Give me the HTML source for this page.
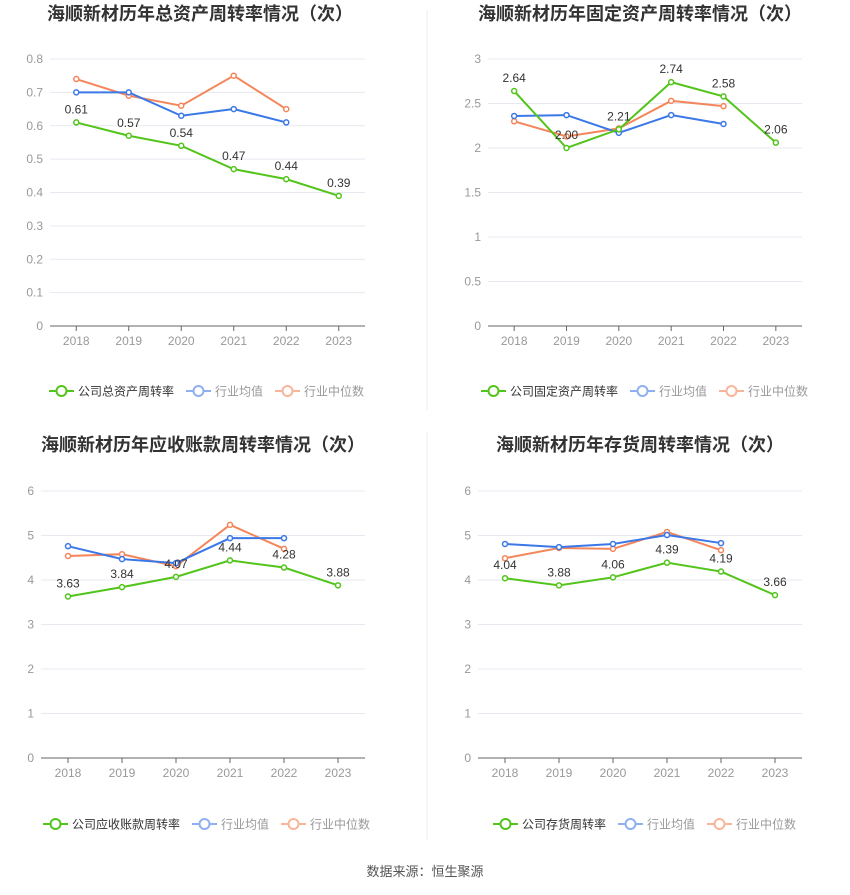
<!DOCTYPE html>
<html><head><meta charset="utf-8"><style>
body{margin:0;background:#fff;font-family:"Liberation Sans","Noto Sans CJK SC",sans-serif;}
svg text{font-family:"Liberation Sans","Noto Sans CJK SC",sans-serif;}
</style></head><body>
<svg id="s" width="850" height="890" xmlns="http://www.w3.org/2000/svg">
<line x1="427" y1="10" x2="427" y2="410" stroke="#eee"/>
<line x1="427" y1="432" x2="427" y2="840" stroke="#eee"/>
<text x="425" y="876" text-anchor="middle" font-size="13" fill="#555">数据来源：恒生聚源</text>
</svg>
<script>
const years=['2018','2019','2020','2021','2022','2023'];
const c1Company=[0.61,0.57,0.54,0.47,0.44,0.39];
const c1Avg=[0.70,0.70,0.63,0.65,0.61];
const c1Median=[0.74,0.69,0.66,0.75,0.65];
const c1Ticks=[0,0.1,0.2,0.3,0.4,0.5,0.6,0.7,0.8];
const c2Company=[2.64,2.00,2.21,2.74,2.58,2.06];
const c2Avg=[2.36,2.37,2.17,2.37,2.27];
const c2Median=[2.30,2.13,2.22,2.53,2.47];
const c2Ticks=[0,0.5,1,1.5,2,2.5,3];
const c3Company=[3.63,3.84,4.07,4.44,4.28,3.88];
const c3Avg=[4.76,4.47,4.38,4.94,4.94];
const c3Median=[4.54,4.58,4.31,5.24,4.70];
const c3Ticks=[0,1,2,3,4,5,6];
const c4Company=[4.04,3.88,4.06,4.39,4.19,3.66];
const c4Avg=[4.81,4.74,4.81,5.01,4.83];
const c4Median=[4.49,4.72,4.70,5.08,4.67];
const c4Ticks=[0,1,2,3,4,5,6];
const svg=document.getElementById('s');
const NS='http://www.w3.org/2000/svg';
function mk(t,a,p){const e=document.createElementNS(NS,t);for(const k in a)e.setAttribute(k,a[k]);(p||svg).appendChild(e);return e;}
function chart(o){
  const g=mk('g',{});
  
  
  const max=o.ticks[o.ticks.length-1];
  const y=v=>o.y0-(v/max)*(o.y0-o.y1);
  const band=(o.x1-o.x0)/years.length;
  const x=i=>o.x0+band*(i+0.5);
  const t=mk('text',{x:o.tx,y:o.ty,'text-anchor':'middle','font-size':18,'font-weight':'bold',fill:'#333'},g);t.textContent=o.title;
  
  
  o.ticks.forEach(v=>{
    if(v>0){const l=mk('line',{x1:o.x0,x2:o.x1,y1:y(v),y2:y(v),stroke:'#e6e9f0'},g);
    
    }
    const tt=mk('text',{x:o.x0-7,y:y(v)+4,'text-anchor':'end','font-size':12,fill:'#999'},g);tt.textContent=String(v);
    
    
  });
  const ax=mk('line',{x1:o.x0,x2:o.x1,y1:o.y0,y2:o.y0,stroke:'#666'},g);
  
  
  years.forEach((yr,i)=>{
    mk('line',{x1:x(i),x2:x(i),y1:o.y0,y2:o.y0+5,stroke:'#666'},g);
    const tt=mk('text',{x:x(i),y:o.y0+19,'text-anchor':'middle','font-size':12,fill:'#999'},g);tt.textContent=yr;
    
    
  });
  const series=[[o.median,'#f5865b','median'],[o.avg,'#3b78e7','average'],[o.company,'#52c41a','company']];
  series.forEach(([d,c,n])=>{
    const p=mk('polyline',{points:d.map((v,i)=>x(i)+','+y(v)).join(' '),fill:'none',stroke:c,'stroke-width':2},g);
    
    
    d.forEach((v,i)=>{const m=mk('circle',{cx:x(i),cy:y(v),r:2.5,fill:'#fff',stroke:c,'stroke-width':1.5},g);
      
      
      if(n==='company'){const l=mk('text',{x:x(i),y:y(v)-9,'text-anchor':'middle','font-size':12,fill:'#333'},g);l.textContent=v.toFixed(2);
      
      }
    });
  });
  const leg=[[o.lname,'#52c41a','#333'],['行业均值','#8fb0f0','#999'],['行业中位数','#f9b59a','#999']];
  let lx=o.lx;
  leg.forEach(([n,c,tc])=>{
    const lg=mk('g',{},g);
    
    
    mk('line',{x1:lx,x2:lx+25,y1:o.ly,y2:o.ly,stroke:c,'stroke-width':2},lg);
    mk('circle',{cx:lx+12.5,cy:o.ly,r:5,fill:'#fff',stroke:c,'stroke-width':2},lg);
    const tt=mk('text',{x:lx+29,y:o.ly+4.5,'font-size':12,fill:tc},lg);tt.textContent=n;
    lx+=29+n.length*12+12;
  });
}
chart({name:'total-asset-turnover-chart',title:'海顺新材历年总资产周转率情况（次）',tx:200,ty:20,x0:50,x1:365,y0:326,y1:59,ticks:c1Ticks,company:c1Company,avg:c1Avg,median:c1Median,lname:'公司总资产周转率',lx:49,ly:391});
chart({name:'fixed-asset-turnover-chart',title:'海顺新材历年固定资产周转率情况（次）',tx:640,ty:20,x0:488,x1:802,y0:326,y1:59,ticks:c2Ticks,company:c2Company,avg:c2Avg,median:c2Median,lname:'公司固定资产周转率',lx:481,ly:391});
chart({name:'receivables-turnover-chart',title:'海顺新材历年应收账款周转率情况（次）',tx:203,ty:451,x0:41,x1:365,y0:758,y1:491,ticks:c3Ticks,company:c3Company,avg:c3Avg,median:c3Median,lname:'公司应收账款周转率',lx:43,ly:824});
chart({name:'inventory-turnover-chart',title:'海顺新材历年存货周转率情况（次）',tx:640,ty:451,x0:478,x1:802,y0:758,y1:491,ticks:c4Ticks,company:c4Company,avg:c4Avg,median:c4Median,lname:'公司存货周转率',lx:493,ly:824});
</script>
</body></html>
